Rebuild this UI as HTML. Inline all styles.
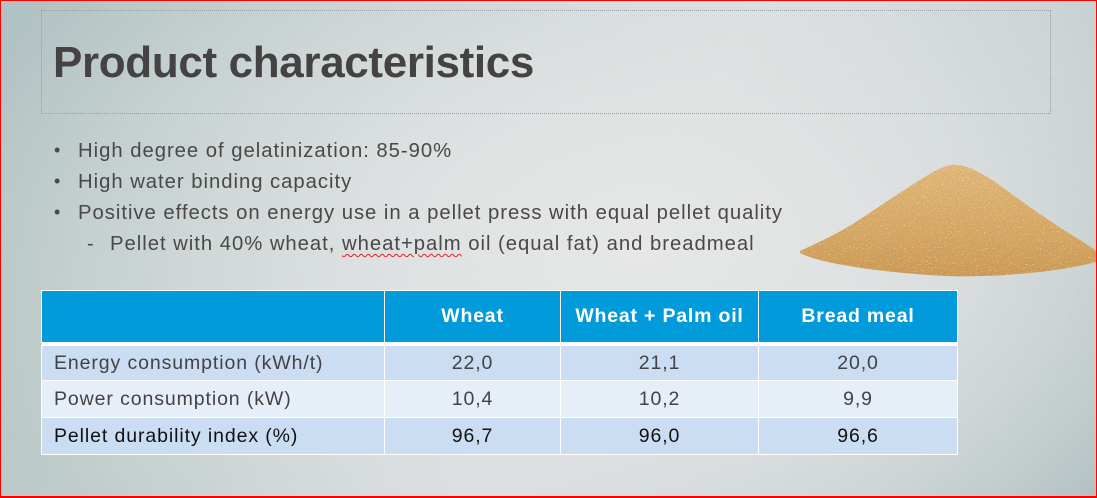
<!DOCTYPE html>
<html>
<head>
<meta charset="utf-8">
<style>
  html, body { margin:0; padding:0; }
  body {
    width:1097px; height:498px; overflow:hidden; position:relative;
    background:
      radial-gradient(ellipse 700px 420px at 640px 250px, rgba(230,231,231,1) 0%, rgba(226,228,228,0.85) 35%, rgba(226,228,228,0) 100%),
      linear-gradient(120deg, #b1c2c2 0%, #c4cfcf 35%, #d6dbdb 55%, #c2cdcd 80%, #a9babc 100%);
    font-family: "Liberation Sans", "DejaVu Sans", sans-serif;
  }
  .frame { position:absolute; left:0; top:0; width:1095px; height:495px; border:1px solid #ff0000; border-bottom-width:2px; }
  .titlebox { position:absolute; left:41px; top:10px; width:1008px; height:102px; border:1px dotted #9a9fa0; }
  .title { position:absolute; left:53px; top:36px; font-size:44px; font-weight:bold; color:#454244; letter-spacing:-0.35px; line-height:54px; white-space:nowrap; }
  .b { position:absolute; font-size:20.3px; color:#4a4849; letter-spacing:0.97px; white-space:nowrap; line-height:24px; }
  .dot { position:absolute; font-size:18px; color:#4a4849; }
  .squig { text-decoration: underline wavy #e02020; text-decoration-thickness:1px; text-underline-offset:3px; }
  table { position:absolute; left:41px; top:290px; border-collapse:collapse; table-layout:fixed; width:916px; }
  td, th { border:1.5px solid #ffffff; padding:0; }
  th { background:#019bdc; color:#fff; font-weight:bold; font-size:19.5px; letter-spacing:0.8px; height:51px; }
  td { font-size:19.5px; color:#454244; letter-spacing:0.9px; text-align:center; }
  td.l { text-align:left; padding-left:12px; }
  tr.r1 td { background:#cbddf2; height:34px; }
  tr.r2 td { background:#e6eef8; height:36px; }
  tr.r3 td { background:#cbddf2; height:36px; color:#111; }
  tr.gap td { height:2px; background:#fff; border:none; }
</style>
</head>
<body>
<div class="titlebox"></div>
<div class="title">Product characteristics</div>

<div class="dot" style="left:54px; top:140px;">•</div>
<div class="b" style="left:78px; top:139px;">High degree of gelatinization: 85-90%</div>
<div class="dot" style="left:54px; top:171px;">•</div>
<div class="b" style="left:78px; top:170px;">High water binding capacity</div>
<div class="dot" style="left:54px; top:202px;">•</div>
<div class="b" style="left:78px; top:201px;">Positive effects on energy use in a pellet press with equal pellet quality</div>
<div class="b" style="left:87px; top:232px;">-</div>
<div class="b" style="left:110px; top:232px;">Pellet with 40% wheat, <span class="squig">wheat+palm</span> oil (equal fat) and breadmeal</div>

<svg style="position:absolute; left:790px; top:155px;" width="307" height="130" viewBox="790 155 307 130">
  <defs>
    <linearGradient id="sand" x1="0" y1="0" x2="0" y2="1">
      <stop offset="0" stop-color="#e3b878"/>
      <stop offset="0.6" stop-color="#d7a660"/>
      <stop offset="1" stop-color="#cc9850"/>
    </linearGradient>
    <filter id="tex" x="790" y="155" width="307" height="130" filterUnits="userSpaceOnUse">
      <feTurbulence type="fractalNoise" baseFrequency="0.7" numOctaves="2" seed="3" result="n"/>
      <feColorMatrix in="n" type="matrix" values="0 0 0 0 0.55  0 0 0 0 0.38  0 0 0 0 0.18  4 0 0 0 -2.2" result="spk"/>
      <feColorMatrix in="n" type="matrix" values="0 0 0 0 0.93  0 0 0 0 0.78  0 0 0 0 0.55  0 4 0 0 -2.5" result="lt"/>
      <feComposite in="spk" in2="SourceGraphic" operator="in" result="s2"/>
      <feComposite in="lt" in2="SourceGraphic" operator="in" result="l2"/>
      <feMerge><feMergeNode in="SourceGraphic"/><feMergeNode in="l2"/><feMergeNode in="s2"/></feMerge>
    </filter>
  </defs>
  <path filter="url(#tex)" fill="url(#sand)" d="M800,251 C815,244 840,233 862,218 C885,203 912,184 935,171 C945,166 952,164 958,165 C968,166 980,172 995,182 C1020,200 1050,222 1075,237 C1085,243 1092,248 1096,251 L1096,262 C1080,266 1060,270 1030,273 C1000,276 970,277 945,276 C910,274 880,271 855,267 C830,263 812,259 800,253 Z"/>
</svg>

<table>
  <colgroup><col style="width:343px"><col style="width:176px"><col style="width:198px"><col style="width:199px"></colgroup>
  <tr>
    <th></th>
    <th>Wheat</th>
    <th>Wheat + Palm oil</th>
    <th>Bread meal</th>
  </tr>
  <tr class="gap"><td></td><td></td><td></td><td></td></tr>
  <tr class="r1"><td class="l">Energy consumption (kWh/t)</td><td>22,0</td><td>21,1</td><td>20,0</td></tr>
  <tr class="r2"><td class="l">Power consumption (kW)</td><td>10,4</td><td>10,2</td><td>9,9</td></tr>
  <tr class="r3"><td class="l">Pellet durability index (%)</td><td>96,7</td><td>96,0</td><td>96,6</td></tr>
</table>

<div class="frame"></div>
</body>
</html>
